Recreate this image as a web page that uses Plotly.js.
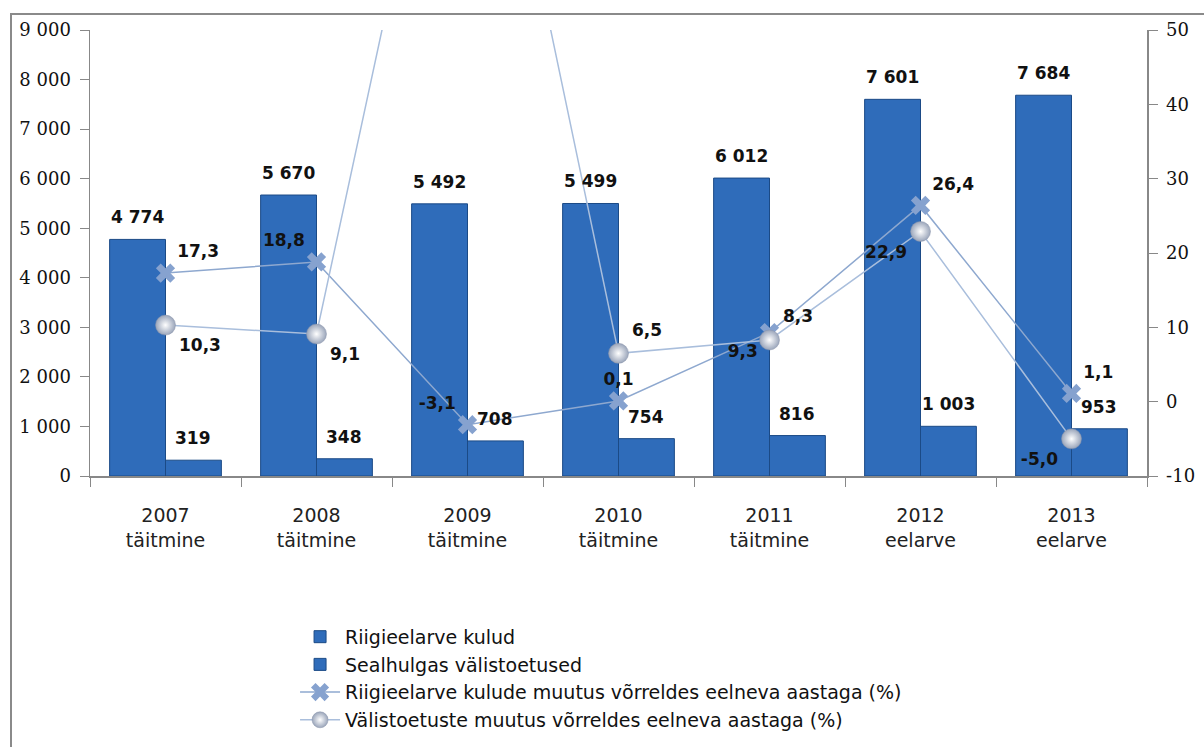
<!DOCTYPE html>
<html>
<head>
<meta charset="utf-8">
<script src="https://cdn.plot.ly/plotly-3.0.1.min.js"></script>
<style>
  html, body { margin: 0; padding: 0; background: #fff; }
  #wrap { position: relative; width: 1204px; height: 747px; overflow: hidden; }
  #chart { position: absolute; left: 0; top: 0; width: 1204px; height: 747px; }
  #frame { position: absolute; left: 10px; top: 13px; width: 1300px; height: 800px;
           border-left: 2px solid #8a8a8a; border-top: 2px solid #8a8a8a; pointer-events: none; }
</style>
</head>
<body>
<div id="wrap">
  <div id="chart"></div>
  <div id="frame"></div>
</div>
<script>
// ---- data ----
const categories = ["2007<br>täitmine", "2008<br>täitmine", "2009<br>täitmine", "2010<br>täitmine",
                    "2011<br>täitmine", "2012<br>eelarve", "2013<br>eelarve"];
const riigieelarveKulud = [4774, 5670, 5492, 5499, 6012, 7601, 7684];
const valistoetused = [319, 348, 708, 754, 816, 1003, 953];
const kuludeMuutus = [17.3, 18.8, -3.1, 0.1, 9.3, 26.4, 1.1];
const valistoetusteMuutus = [10.3, 9.1, 103.4, 6.5, 8.3, 22.9, -5.0];
const rightTickVals = [-10, 0, 10, 20, 30, 40, 50];
const rightTickText = ["-10", "0", "10", "20", "30", "40", "50"];
const seriesNames = [
  "Riigieelarve kulud",
  "Sealhulgas välistoetused",
  "Riigieelarve kulude muutus võrreldes eelneva aastaga (%)",
  "Välistoetuste muutus võrreldes eelneva aastaga (%)"
];

// ---- styling ----
const sans = "'DejaVu Sans', 'Noto Sans', sans-serif";
const labelFont = { family: sans, size: 17, color: "#111", weight: "bold" };
const barColor = "#2f6cba";
const barLine = "#1b4a86";
const kuludPos = ["top right", "top left", "top left", "top center", "bottom left", "top right", "top right"];
const valisPos = ["bottom right", "bottom right", "top right", "top right", "top right", "bottom left", "bottom left"];
const y2Max = 50;

function fmt(n) { return String(n).replace(/\B(?=(\d{3})+(?!\d))/g, " "); }
function pct(v) { return v > y2Max ? "" : v.toFixed(1).replace(".", ","); }

const traces = [
  {
    type: "bar", name: seriesNames[0], x: categories, y: riigieelarveKulud,
    marker: { color: barColor, line: { color: barLine, width: 1 } },
    hoverinfo: "skip"
  },
  {
    type: "bar", name: seriesNames[1], x: categories, y: valistoetused,
    marker: { color: barColor, line: { color: barLine, width: 1 } },
    hoverinfo: "skip"
  },
  {
    type: "scatter", mode: "lines+markers+text", name: seriesNames[2],
    x: categories, y: kuludeMuutus, yaxis: "y2",
    line: { color: "#8ea8cf", width: 1.5 },
    marker: { symbol: "x", size: 17, color: "#86a2cf", line: { width: 0 } },
    text: kuludeMuutus.map(pct), textposition: kuludPos, textfont: labelFont,
    cliponaxis: true, hoverinfo: "skip"
  },
  {
    type: "scatter", mode: "lines+markers+text", name: seriesNames[3],
    x: categories, y: valistoetusteMuutus, yaxis: "y2",
    line: { color: "#a9bedc", width: 1.5 },
    marker: { symbol: "circle", size: 20, color: "#9aa5ba",
              gradient: { type: "radial", color: "#ffffff" }, line: { color: "#8a95aa", width: 0.5 } },
    text: valistoetusteMuutus.map(pct), textposition: valisPos, textfont: labelFont,
    cliponaxis: true, hoverinfo: "skip"
  }
];

const annotations = [];
const half = 0.185;
riigieelarveKulud.forEach((v, i) => annotations.push({
  x: i - half, y: v, xref: "x", yref: "y", text: fmt(v), showarrow: false,
  yanchor: "bottom", yshift: 10, font: labelFont
}));
valistoetused.forEach((v, i) => annotations.push({
  x: i + half, y: v, xref: "x", yref: "y", text: fmt(v), showarrow: false,
  yanchor: "bottom", yshift: 10, font: labelFont
}));

const axisNumFont = { family: "'DejaVu Serif', serif", size: 18, color: "#111" };

const layout = {
  width: 1204, height: 747,
  margin: { l: 90, r: 57, t: 30, b: 271, autoexpand: false },
  paper_bgcolor: "#fff", plot_bgcolor: "#fff",
  separators: ", ",
  barmode: "group", bargap: 0.26, bargroupgap: 0,
  showlegend: true,
  legend: {
    x: 0.194, y: -0.318, xanchor: "left", yanchor: "top",
    font: { family: sans, size: 19, color: "#111" },
    tracegroupgap: 0, itemwidth: 40, bgcolor: "rgba(0,0,0,0)"
  },
  xaxis: {
    type: "category", showline: true, linecolor: "#888", linewidth: 1.5,
    ticks: "outside", tickson: "boundaries", ticklen: 9, tickcolor: "#888",
    tickfont: { family: sans, size: 19, color: "#222" },
    ticklabelstandoff: 22, showgrid: false, zeroline: false, fixedrange: true
  },
  yaxis: {
    range: [0, 9000], dtick: 1000, showline: true, linecolor: "#888", linewidth: 1.5,
    ticks: "outside", ticklen: 9, tickcolor: "#888", showgrid: false, zeroline: false,
    tickfont: axisNumFont, tickformat: ",d", ticklabelstandoff: 5
  },
  yaxis2: {
    overlaying: "y", side: "right", range: [-10, 50],
    tickmode: "array", tickvals: rightTickVals, ticktext: rightTickText,
    showline: true, linecolor: "#888", linewidth: 1.5,
    ticks: "outside", ticklen: 9, tickcolor: "#888", showgrid: false, zeroline: false,
    tickfont: axisNumFont, ticklabelstandoff: 5
  },
  annotations: annotations
};

Plotly.newPlot("chart", traces, layout, { displayModeBar: false, staticPlot: true });
</script>
</body>
</html>
